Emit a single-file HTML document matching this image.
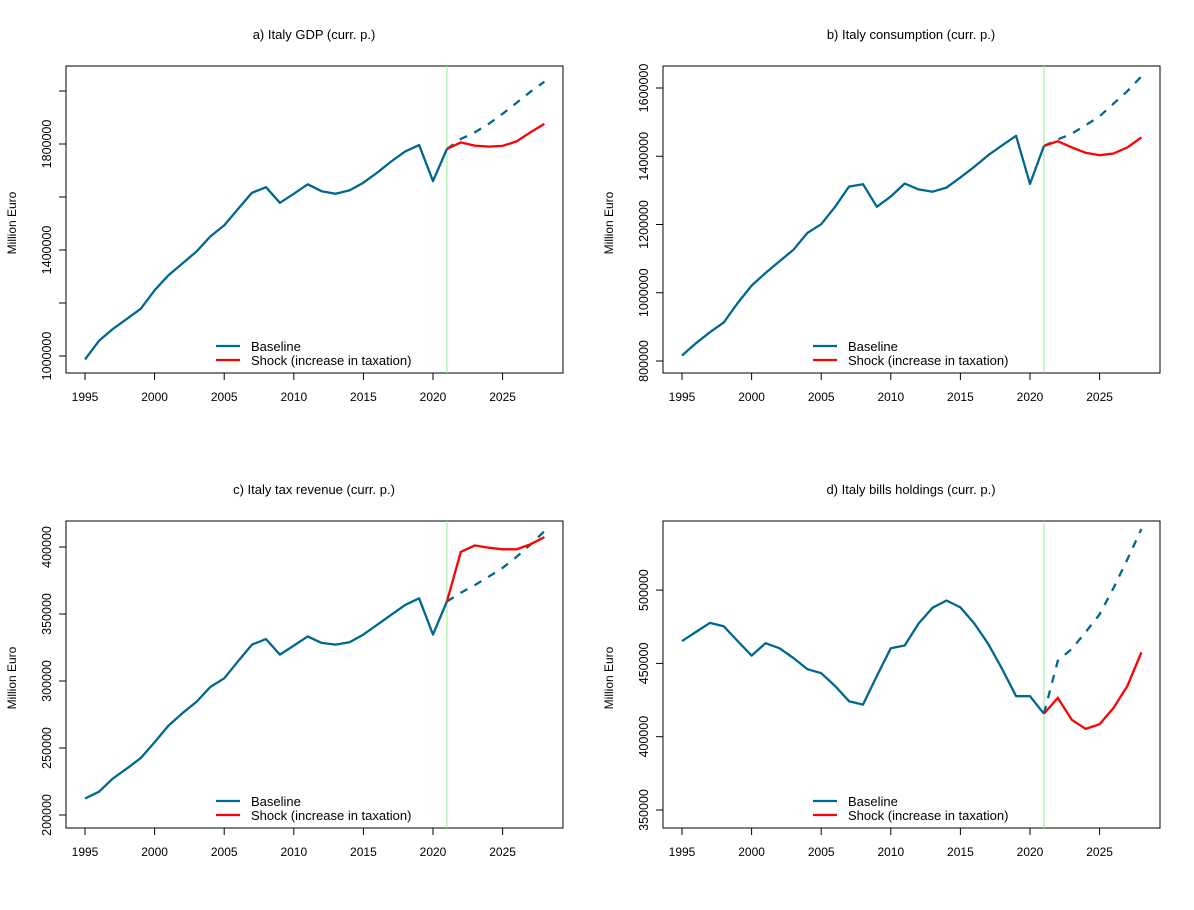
<!DOCTYPE html>
<html><head><meta charset="utf-8"><style>
body{margin:0;background:#fff}
svg{display:block;font-family:"Liberation Sans",Arial,sans-serif}
</style></head><body>
<svg id="chart" width="1194" height="910" viewBox="0 0 1194 910"></svg>
<script>
const years=[1995,1996,1997,1998,1999,2000,2001,2002,2003,2004,2005,2006,2007,2008,2009,2010,2011,2012,2013,2014,2015,2016,2017,2018,2019,2020,2021];
const projYears=[2021,2022,2023,2024,2025,2026,2027,2028];
const xTicks=[1995,2000,2005,2010,2015,2020,2025];
const gdpHist=[987000,1057000,1102000,1140000,1178000,1248000,1305000,1349000,1394000,1451000,1493000,1555000,1616000,1637000,1578000,1612000,1648000,1622000,1612000,1625000,1654000,1692000,1734000,1772000,1796000,1660000,1781000];
const gdpBase=[1781000,1819000,1844000,1876000,1914000,1955000,1997000,2035000];
const gdpShock=[1781000,1806000,1794000,1790000,1793000,1810000,1844000,1876000];
const consHist=[816000,852000,884000,913000,970000,1021000,1058000,1092000,1126000,1175000,1201000,1252000,1311000,1318000,1252000,1282000,1320000,1303000,1296000,1308000,1338000,1369000,1403000,1432000,1460000,1319000,1430000];
const consBase=[1430000,1449000,1466000,1491000,1517000,1554000,1591000,1634000];
const consShock=[1430000,1444000,1426000,1410000,1403000,1408000,1426000,1455000];
const taxHist=[212300,217300,227200,234600,242500,254300,266700,276000,284400,295500,302000,314800,327200,331300,319700,326400,333300,328400,327200,328900,334600,342000,349400,356800,361700,334600,359300];
const taxBase=[359300,365900,371600,377800,384400,392600,401700,411800];
const taxShock=[359300,396300,401200,399500,398300,398300,402000,407400];
const billsHist=[465200,471400,477600,475300,465200,455300,463800,460400,453700,446100,443300,434600,424200,421900,441500,460400,462200,477200,488000,492900,488200,477200,463400,446100,427600,427600,415700];
const billsBase=[415700,451800,459900,471400,483400,501400,521000,541700];
const billsShock=[415700,426500,411500,405300,408500,419600,434600,457600];
const gdpTicks=[1000000,1200000,1400000,1600000,1800000,2000000];
const gdpTickLabels=["1000000","","1400000","","1800000",""];
const consTicks=[800000,1000000,1200000,1400000,1600000];
const consTickLabels=["800000","1000000","1200000","1400000","1600000"];
const taxTicks=[200000,250000,300000,350000,400000];
const taxTickLabels=["200000","250000","300000","350000","400000"];
const billsTicks=[350000,400000,450000,500000];
const billsTickLabels=["350000","400000","450000","500000"];
const shockYear=2021;

const NS="http://www.w3.org/2000/svg";
const svg=document.getElementById('chart');
function mk(tag,attrs,parent){const e=document.createElementNS(NS,tag);for(const k in attrs)e.setAttribute(k,attrs[k]);(parent||svg).appendChild(e);return e;}
const BLUE="#00688B";

const panels=[
 {key:'gdp',title:'a) Italy GDP (curr. p.)',ox:0,oy:0,hist:gdpHist,base:gdpBase,shock:gdpShock,ticks:gdpTicks,tl:gdpTickLabels,v0:1000000,y0:356,dv:400000,dy:106},
 {key:'consumption',title:'b) Italy consumption (curr. p.)',ox:597,oy:0,hist:consHist,base:consBase,shock:consShock,ticks:consTicks,tl:consTickLabels,v0:800000,y0:361,dv:200000,dy:68.25},
 {key:'tax',title:'c) Italy tax revenue (curr. p.)',ox:0,oy:455,hist:taxHist,base:taxBase,shock:taxShock,ticks:taxTicks,tl:taxTickLabels,v0:200000,y0:360,dv:50000,dy:67},
 {key:'bills',title:'d) Italy bills holdings (curr. p.)',ox:597,oy:455,hist:billsHist,base:billsBase,shock:billsShock,ticks:billsTicks,tl:billsTickLabels,v0:350000,y0:355,dv:50000,dy:73.3}
];

panels.forEach(p=>{
 const g=mk('g',{transform:`translate(${p.ox},${p.oy})`});
 
 
 const X=yr=>85+(yr-1995)*13.92;
 const Y=v=>p.y0-(v-p.v0)/p.dv*p.dy;
 const t=mk('text',{x:314,y:39,'text-anchor':'middle','font-size':13,fill:'#000'},g);t.textContent=p.title;
 
 
 const box=mk('rect',{x:66,y:66,width:497,height:307,fill:'none',stroke:'#000','stroke-width':1},g);
 
 
 const xa=mk('g',{},g);
 
 
 xTicks.forEach(yr=>{
  mk('line',{x1:X(yr),x2:X(yr),y1:373,y2:380,stroke:'#000'},xa);
  const l=mk('text',{x:X(yr),y:401,'text-anchor':'middle','font-size':12},xa);l.textContent=yr;
 });
 const ya=mk('g',{},g);
 
 
 p.ticks.forEach((v,i)=>{
  mk('line',{x1:59,x2:66,y1:Y(v),y2:Y(v),stroke:'#000'},ya);
  if(p.tl[i]){const l=mk('text',{x:0,y:0,'text-anchor':'middle','font-size':12.5,transform:`translate(51,${Y(v)}) rotate(-90)`},ya);l.textContent=p.tl[i];}
 });
 const yt=mk('text',{'text-anchor':'middle','font-size':12,transform:'translate(16,223) rotate(-90)'},g);yt.textContent='Million Euro';
 
 
 const gl=mk('line',{x1:X(shockYear),x2:X(shockYear),y1:66,y2:373,stroke:'#90EE90','stroke-width':1},g);
 
 
 const pts=(ys,vs)=>ys.map((yr,i)=>X(yr).toFixed(1)+','+Y(vs[i]).toFixed(1)).join(' ');
 const bl=mk('polyline',{points:pts(projYears,p.base),fill:'none',stroke:BLUE,'stroke-width':2.3,'stroke-dasharray':'8,8'},g);
 
 
 const sl=mk('polyline',{points:pts(projYears,p.shock),fill:'none',stroke:'#FF0000','stroke-width':2.3},g);
 
 
 const hl=mk('polyline',{points:pts(years,p.hist),fill:'none',stroke:BLUE,'stroke-width':2.3,'stroke-linejoin':'round'},g);
 
 
 const lg=mk('g',{},g);
 
 
 mk('line',{x1:216,x2:240,y1:346,y2:346,stroke:BLUE,'stroke-width':2.3},lg);
 mk('line',{x1:216,x2:240,y1:360,y2:360,stroke:'#FF0000','stroke-width':2.3},lg);
 const a=mk('text',{x:251,y:351,'font-size':13},lg);a.textContent='Baseline';
 const b=mk('text',{x:251,y:365,'font-size':13},lg);b.textContent='Shock (increase in taxation)';
});
</script>
</body></html>
